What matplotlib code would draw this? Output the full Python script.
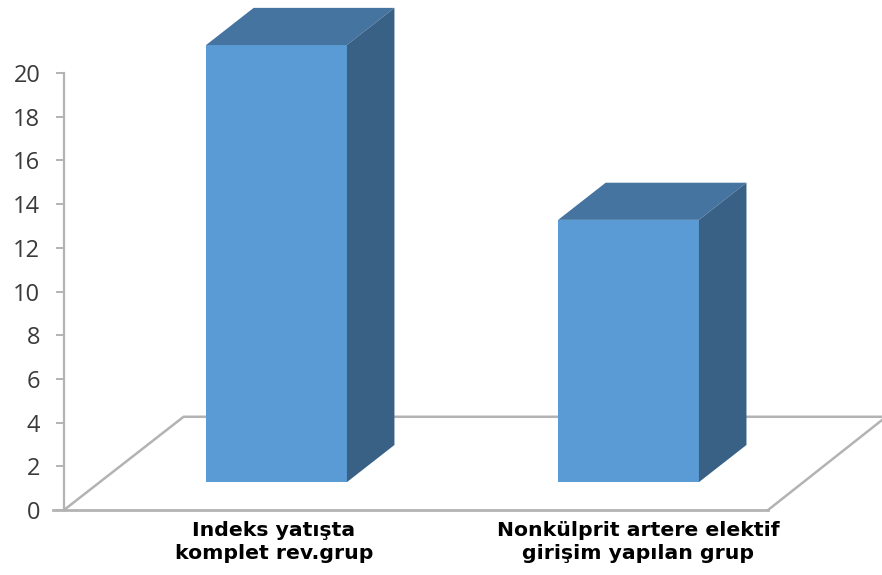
import matplotlib
matplotlib.use("Agg")
import matplotlib.pyplot as plt
from matplotlib.patches import Polygon

groups = ["Indeks yatışta\nkomplet rev.grup", "Nonkülprit artere elektif\ngirişim yapılan grup"]
values = [20, 12]
y_ticks = [0, 2, 4, 6, 8, 10, 12, 14, 16, 18, 20]

# one unit on x is the spacing between the two bars
bar_width = 0.4
bar_base = 1.28
depth_x = 0.135
depth_y = 1.7
floor_dx = 0.34
floor_dy = 4.27
floor_left = -0.604
floor_right = 1.396

front_color = "#5b9bd5"
top_color = "#44749f"
side_color = "#396186"
line_color = "#b3b3b3"

fig = plt.figure(figsize=(8.82, 5.75), dpi=100)
ax = fig.add_axes([0, 0, 1, 1])
ax.set_xlim(-0.7855, 1.72)
ax.set_ylim(-2.97, 23.34)
ax.patch.set_visible(False)

for s in ["top", "right", "bottom"]:
    ax.spines[s].set_visible(False)
ax.spines["left"].set_position(("data", floor_left))
ax.spines["left"].set_bounds(0, 20)
ax.spines["left"].set_color(line_color)
ax.spines["left"].set_linewidth(1.6)

ax.set_yticks(y_ticks)
ax.set_xticks([])
ax.tick_params(axis="y", length=6, width=1.4, color=line_color, pad=11, labelcolor="#3a3a3a")
for lab in ax.get_yticklabels():
    lab.set_fontfamily("Open Sans")
    lab.set_fontsize(17)

# floor of the 3d plot
ax.plot([floor_left - 0.03, floor_right], [0, 0], color=line_color, lw=2, zorder=1)
ax.plot([floor_left, floor_left + floor_dx, 1.72], [0, floor_dy, floor_dy], color=line_color, lw=1.8, zorder=1)
ax.plot([floor_right, 1.72], [0, floor_dy - 0.15], color=line_color, lw=1.8, zorder=1)

# bars with their top and side faces
positions = list(range(len(values)))
ax.bar(positions, values, width=bar_width, bottom=bar_base, color=front_color, zorder=3)
for p, v in zip(positions, values):
    left = p - bar_width / 2
    right = p + bar_width / 2
    top = bar_base + v
    ax.add_patch(Polygon([(left, top), (right, top), (right + depth_x, top + depth_y), (left + depth_x, top + depth_y)],
                         closed=True, color=top_color, lw=0, zorder=3))
    ax.add_patch(Polygon([(right, bar_base), (right + depth_x, bar_base + depth_y), (right + depth_x, top + depth_y), (right, top)],
                         closed=True, color=side_color, lw=0, zorder=3))

# category labels sit under the floor, the second a little right of its bar
label_x = [-0.008, 1.028]
for x, g in zip(label_x, groups):
    ax.text(x, -0.5, g, ha="center", va="top", family="DejaVu Sans", weight="bold",
            fontsize=14.7, color="black", linespacing=1.28)

fig.savefig("out.png", dpi=100)
